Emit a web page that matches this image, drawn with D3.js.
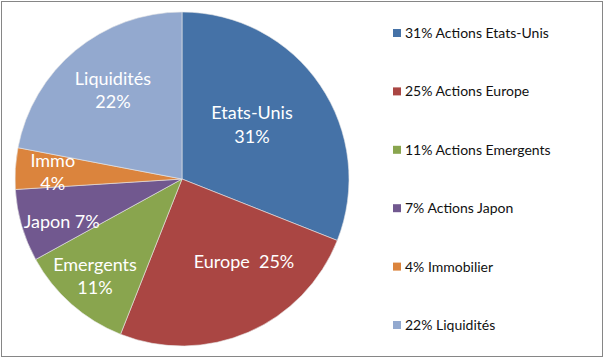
<!DOCTYPE html>
<html lang="fr">
<head>
<meta charset="utf-8">
<title>Allocation</title>
<script src="https://cdn.jsdelivr.net/npm/d3@7"></script>
<style>
  body { margin: 0; background: #fff; }
  svg text { font-family: Lato, "Open Sans", sans-serif; }
</style>
</head>
<body>
<script>
// data
var categories = ["Etats-Unis", "Europe", "Emergents", "Japon", "Immo", "Liquidités"];
var values = [31, 25, 11, 7, 4, 22];
var legendLabels = ["31% Actions Etats-Unis", "25% Actions Europe", "11% Actions Emergents",
                    "7% Actions Japon", "4% Immobilier", "22% Liquidités"];
var colors = ["#4572A7", "#AA4643", "#89A54E", "#71588F", "#DB843D", "#93A9CF"];

var width = 605, height = 359;
var cx = 182, cy = 179, r = 167;

// label placement: distance from centre (fraction of radius), angle nudge (deg), one line or two
var labelFrac = [0.53, 0.62, 0.78, 0.765, 0.775, 0.675];
var labelNudge = [-3.5, -13.4, 0.5, -3.5, -0.5, 1.8];
var oneLine = [false, true, false, true, false, false];

var svg = d3.select("body").append("svg")
    .attr("width", width)
    .attr("height", height);

svg.append("rect")
    .attr("x", 1.5).attr("y", 1.5)
    .attr("width", 601).attr("height", 355)
    .attr("fill", "#fff")
    .attr("stroke", "#868686")
    .attr("stroke-width", 1);

var pie = d3.pie().sort(null).value(function(d) { return d; });
var arcs = pie(values);
var arc = d3.arc().innerRadius(0).outerRadius(r);

var g = svg.append("g").attr("transform", "translate(" + cx + "," + cy + ")");

g.selectAll("path")
  .data(arcs)
  .enter().append("path")
  .attr("d", arc)
  .attr("fill", function(d, i) { return colors[i]; })
  .attr("stroke", "#e8e8e8")
  .attr("stroke-width", 0.6);

var labels = g.selectAll("text.lbl")
  .data(arcs)
  .enter().append("text")
  .attr("class", "lbl")
  .attr("fill", "#fff")
  .attr("font-size", 18)
  .attr("text-anchor", "middle")
  .attr("transform", function(d, i) {
    var a = (d.startAngle + d.endAngle) / 2 + labelNudge[i] * Math.PI / 180;
    var lr = r * labelFrac[i];
    return "translate(" + (Math.sin(a) * lr) + "," + (-Math.cos(a) * lr) + ")";
  });

labels.each(function(d, i) {
  var t = d3.select(this);
  if (oneLine[i]) {
    t.append("tspan").attr("x", 0).attr("dy", "0.35em")
      .text(categories[i] + (i == 1 ? "\u00a0 " : " ") + values[i] + "%");
  } else {
    t.append("tspan").attr("x", 0).attr("dy", "-0.3em").text(categories[i]);
    t.append("tspan").attr("x", 0).attr("dy", "1.28em").text(values[i] + "%");
  }
});

// legend
var legend = svg.append("g").attr("transform", "translate(393,0)");
var ly = d3.scalePoint().domain(d3.range(values.length)).range([33, 325]);

var item = legend.selectAll("g")
  .data(legendLabels)
  .enter().append("g")
  .attr("transform", function(d, i) { return "translate(0," + ly(i) + ")"; });

item.append("rect")
  .attr("x", 0).attr("y", -4)
  .attr("width", 8).attr("height", 8)
  .attr("fill", function(d, i) { return colors[i]; });

item.append("text")
  .attr("x", 12)
  .attr("dy", "0.35em")
  .attr("font-size", 14)
  .attr("fill", "#111")
  .text(function(d) { return d; });
</script>
</body>
</html>
